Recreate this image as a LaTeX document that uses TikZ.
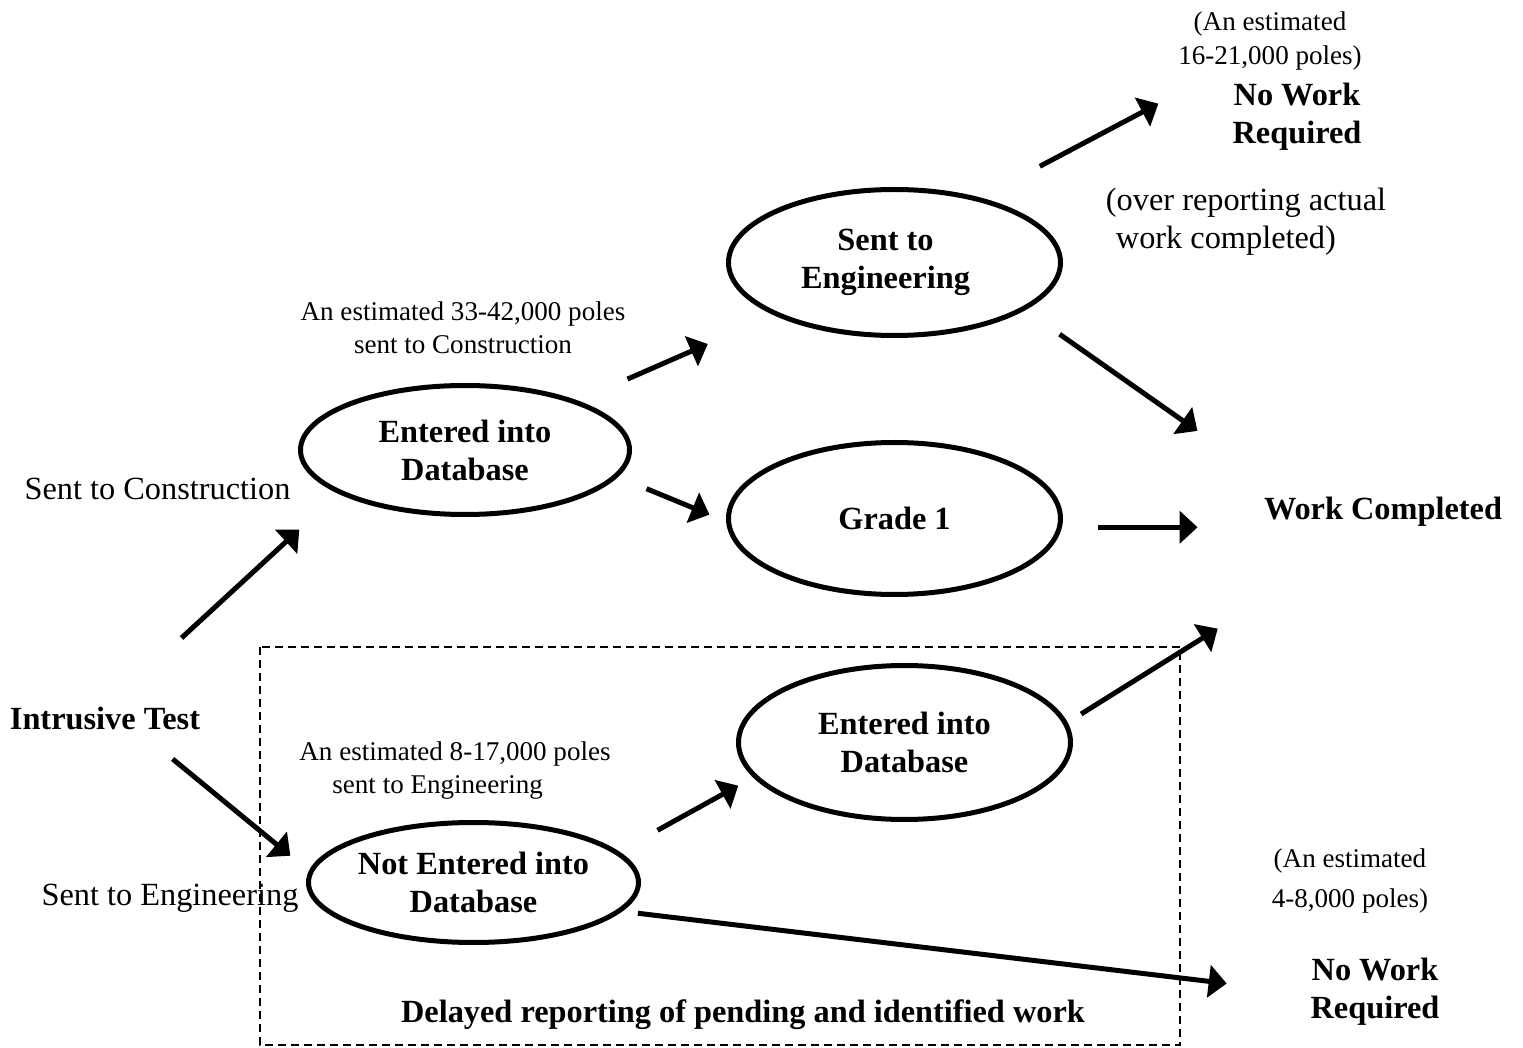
\documentclass[tikz,border=0pt]{standalone}
\usepackage{fontspec}
\setmainfont{Liberation Serif}
\usepackage{tikz}
\usetikzlibrary{arrows.meta,shapes.geometric}

\begin{document}
\begin{tikzpicture}[
  oval/.style={ellipse, draw, line width=0.05cm, inner sep=0pt, minimum width=3.32cm,
               align=center, font=\fontsize{9.2}{10.8}\selectfont\bfseries},
  tx/.style={align=center, font=\fontsize{9.2}{10.8}\selectfont},
  sm/.style={align=center, font=\fontsize{7.7}{9.4}\selectfont},
  flow/.style={line width=0.05cm, -{Triangle[length=0.18cm,width=0.32cm]}},
  frame/.style={line width=0.02cm, dash pattern=on 0.08cm off 0.05cm}]
\useasboundingbox (0,0) rectangle (15.23,-10.48);

\draw (1.05,-7.18)  node (test)  [tx,font=\fontsize{9.2}{10.8}\selectfont\bfseries] {Intrusive Test};
\draw (1.575,-4.89) node (sentc) [tx] {Sent to Construction};
\draw (1.70,-8.98)  node (sente) [tx] {Sent to Engineering};

\draw (4.65,-4.50)  node (db1)   [oval,minimum width=3.29cm,minimum height=1.29cm] {Entered into\\Database};
\draw (4.63,-3.28)  node (est33) [sm] {An estimated 33-42,000 poles\\sent to Construction};

\draw (4.735,-8.825) node (notdb) [oval,minimum width=3.30cm,minimum height=1.20cm] {Not Entered into\\Database};
\draw (4.55,-7.71)  node (est8)  [sm,align=left] {An estimated 8-17,000 poles\\\hspace*{0.33cm}sent to Engineering};

\draw (8.945,-2.625) node (eng)   [oval,minimum height=1.46cm] {\hspace*{-0.18cm}Sent to\\\hspace*{-0.18cm}Engineering};
\draw (8.945,-5.185) node (grade) [oval,minimum height=1.52cm] {Grade 1};
\draw (9.045,-7.425) node (db2)   [oval,minimum height=1.54cm] {Entered into\\Database};

\draw (12.70,-0.41) node (est16) [sm] {(An estimated\\16-21,000 poles)};
\draw (12.97,-1.17) node (nw1)   [tx,font=\fontsize{9.2}{10.8}\selectfont\bfseries] {No Work\\Required};
\draw (12.46,-2.22) node (over)  [tx,align=left] {(over reporting actual\\\hspace{0.1cm}work completed)};
\draw (13.83,-5.12) node (done)  [tx,font=\fontsize{9.2}{10.8}\selectfont\bfseries] {Work Completed};
\draw (13.50,-8.81) node (est4)  [sm] {(An estimated\\[0.06cm]4-8,000 poles)};
\draw (13.75,-9.92) node (nw2)   [tx,font=\fontsize{9.2}{10.8}\selectfont\bfseries] {No Work\\Required};

% pending work
\draw[frame] (2.60,-6.47) rectangle (11.80,-10.45);
\draw (7.43,-10.15) node (delay) [tx,font=\fontsize{9.2}{10.8}\selectfont\bfseries] {Delayed reporting of pending and identified work};

\draw[flow,shorten <=0.83cm,shorten >=0.53cm] (test.57) -- (db1.199);
\draw[flow,shorten <=0.27cm,shorten >=0.24cm] (test.-27) -- (notdb.176);
\draw[flow,shorten <=0.54cm,shorten >=0.72cm] (db1) -- (eng);
\draw[flow,shorten <=0.31cm,shorten >=0.18cm] (db1.-10) -- (grade.181);
\draw[flow,shorten <=0.67cm,shorten >=0.70cm] (eng.37) -- (nw1.north west);
\draw[flow,shorten <=0.42cm,shorten >=0.94cm] (eng.-20) -- (done.166);
\draw[flow,shorten <=0.36cm,shorten >=0.54cm] (grade.-3) -- (grade.-3 -| done.west);
\draw[flow,shorten <=0.16cm,shorten >=1.69cm] (db2.7.5) -- (done.231);
\draw[flow,shorten <=0.44cm,shorten >=0.17cm] (notdb.12) -- (db2.193);
\draw[flow,shorten <=0.16cm,shorten >=0.72cm] (notdb.-11) -- (nw2.west);
\end{tikzpicture}
\end{document}
